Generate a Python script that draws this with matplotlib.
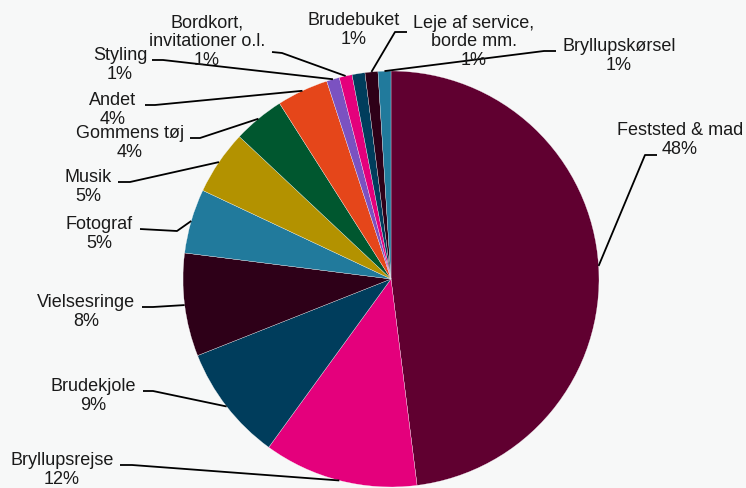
import numpy as np
import matplotlib.pyplot as plt

plt.rcParams["font.family"] = ["Liberation Sans", "DejaVu Sans"]

categories = [
    "Feststed & mad", "Bryllupsrejse", "Brudekjole", "Vielsesringe",
    "Fotograf", "Musik", "Gommens tøj", "Andet", "Styling",
    "Bordkort,\ninvitationer o.l.", "Brudebuket",
    "Leje af service,\nborde mm.", "Bryllupskørsel",
]
shares = [48, 12, 9, 8, 5, 5, 4, 4, 1, 1, 1, 1, 1]
colors = [
    "#600030", "#E4007C", "#003D5C", "#2E0018", "#217A9C", "#B39200",
    "#00572F", "#E5461A", "#7B52C1", "#E4007C", "#003D5C", "#2E0018",
    "#217A9C",
]

# label placement in pixel coords (y down): text centre, elbow points
label_pos = [
    ((680, 140), [(657, 155), (645, 155)]),
    ((62, 470), [(120, 465), (132, 465)]),
    ((93, 396), [(143, 391), (153, 391)]),
    ((86, 312), [(142, 307), (153, 307)]),
    ((99, 234), [(140, 229), (177, 231)]),
    ((88, 187), [(118, 182), (130, 182)]),
    ((130, 143), [(190, 138), (200, 138)]),
    ((113, 110), [(145, 105), (155, 105)]),
    ((120, 65), [(152, 60), (163, 60)]),
    ((207, 42), [(272, 52), (282, 53)]),
    ((354, 30), None),
    ((474, 42), [(407, 32), (395, 32)]),
    ((619, 56), [(556, 51), (544, 51)]),
]

W, H = 746, 488
cx, cy, r = 391, 279, 208

fig = plt.figure(figsize=(W / 100, H / 100), dpi=100)
fig.patch.set_facecolor("#F7F8F8")
ax = fig.add_axes([0, 0, 1, 1])

wedges, _ = ax.pie(
    shares, colors=colors, startangle=90, counterclock=False,
    center=(cx, H - cy), radius=r, frame=True,
    wedgeprops=dict(edgecolor="white", linewidth=0.2),
)
ax.set_xlim(0, W)
ax.set_ylim(0, H)
ax.set_aspect("equal")
ax.axis("off")

for w, name, val, (tpos, elbow) in zip(wedges, categories, shares, label_pos):
    ang = np.deg2rad((w.theta1 + w.theta2) / 2)
    ax_pt = (cx + r * np.cos(ang), H - cy + r * np.sin(ang))
    ax.text(tpos[0], H - tpos[1], f"{name}\n{val}%", ha="center", va="center",
            fontsize=13, color="#1A1A1A", linespacing=1.15)
    if elbow:
        xs = [p[0] for p in elbow] + [ax_pt[0]]
        ys = [H - p[1] for p in elbow] + [ax_pt[1]]
        ax.plot(xs, ys, color="black", lw=1.3, solid_capstyle="butt")

fig.savefig("out.png", dpi=100, facecolor=fig.get_facecolor())
